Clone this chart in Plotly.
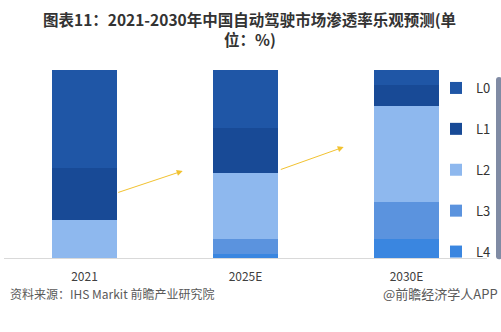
import plotly.graph_objects as go

categories = ["2021", "2025E", "2030E"]
levels = ["L4", "L3", "L2", "L1", "L0"]
values = {
    "L0": [52, 31, 8],
    "L1": [28, 24, 11],
    "L2": [20, 35, 51],
    "L3": [0, 8, 20],
    "L4": [0, 2, 10],
}
colors = {
    "L0": "#1F56A6",
    "L1": "#184A96",
    "L2": "#8EB8EE",
    "L3": "#5B93DE",
    "L4": "#3A86E0",
}
legend_rank = {"L0": 1, "L1": 2, "L2": 3, "L3": 4, "L4": 5}
title_lines = ["图表11：2021-2030年中国自动驾驶市场渗透率乐观预测(单", "位：%)"]

fig = go.Figure()
for lv in levels:
    fig.add_trace(go.Bar(
        x=list(range(len(categories))), y=values[lv], name=lv,
        marker=dict(color=colors[lv], line=dict(width=0)),
        legendgroup=lv, legendrank=legend_rank[lv], hoverinfo="skip",
    ))

# decorative trend arrows
arrow_color = "#F2C230"
for (x0, y0, x1, y1) in [(0.20, 34.6, 0.61, 46.3), (1.21, 46.8, 1.61, 59.0)]:
    fig.add_annotation(x=x1, y=y1, ax=x0, ay=y0, xref="x", yref="y", axref="x", ayref="y",
                       showarrow=True, arrowhead=2, arrowsize=1.2, arrowwidth=1,
                       arrowcolor=arrow_color, text="")

for i, (line, py) in enumerate(zip(title_lines, [19, 39])):
    fig.add_annotation(text="<b>" + line + "</b>", xref="paper", yref="paper",
                       x=(250 - 4) / 483, y=(258 - py) / 188, xanchor="center", yanchor="middle",
                       showarrow=False, borderpad=0, font=dict(size=15.5, color="#333333"))
fig.add_annotation(text="资料来源：IHS Markit 前瞻产业研究院", xref="paper", yref="paper",
                   x=(8 - 4) / 483, y=-35 / 188, xanchor="left", yanchor="middle",
                   showarrow=False, font=dict(size=12, color="#595959"))
fig.add_annotation(text="@前瞻经济学人APP", xref="paper", yref="paper",
                   x=(500 - 4) / 483, y=-35 / 188, xanchor="right", yanchor="middle",
                   showarrow=False, font=dict(size=13, color="#595959"))

fig.update_layout(
    width=501, height=332,
    margin=dict(l=4, r=14, t=70, b=74),
    paper_bgcolor="white", plot_bgcolor="white",
    barmode="stack", bargap=0.6,
    font=dict(family="Noto Sans CJK SC, Microsoft YaHei, sans-serif", color="#333333"),
    xaxis=dict(tickmode="array", tickvals=list(range(len(categories))), ticktext=categories,
               range=[-0.5, 2.5], showline=True, linecolor="#D9D9D9", linewidth=1,
               showgrid=False, zeroline=False, ticks="outside", ticklen=8, tickcolor="white",
               tickfont=dict(size=12, color="#404040")),
    yaxis=dict(range=[0, 100], visible=False, showgrid=False, zeroline=False),
    showlegend=True,
    legend=dict(traceorder="grouped", tracegroupgap=21,
                x=(436 - 4) / 483, xanchor="left", y=(258 - 73) / 188, yanchor="top",
                bgcolor="rgba(0,0,0,0)", font=dict(size=13, color="#333333")),
)

fig.write_html("out.html")
